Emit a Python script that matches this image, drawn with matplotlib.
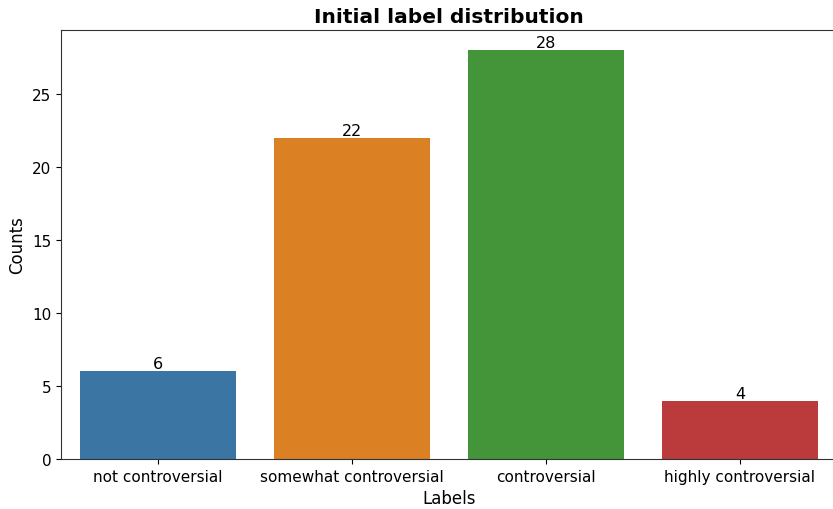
import matplotlib
matplotlib.use('Agg')
import matplotlib.pyplot as plt
import numpy as np

labels = ['not controversial', 'somewhat controversial', 'controversial', 'highly controversial']
counts = [6, 22, 28, 4]
colors = ['#3a75a4', '#dc8024', '#44953a', '#bb3b3d']


def main():
    fig = plt.figure(figsize=(8.33, 5.1), dpi=100)
    # axes runs a bit past the right edge, as in the cropped original
    ax = fig.add_axes([61 / 833, 50 / 510, 776 / 833, 429 / 510])

    x = np.arange(len(labels))
    bars = ax.bar(x, counts, width=0.8, color=colors)
    ax.set_xlim(-0.5, len(labels) - 0.5)
    ax.set_ylim(0, max(counts) * 1.05)
    ax.set_xticks(x)
    ax.set_xticklabels(labels)
    ax.bar_label(bars, fontsize=11.5, padding=0)

    ax.tick_params(labelsize=11)
    for s in ax.spines.values():
        s.set_color('#333333')
    ax.set_xlabel('Labels', fontsize=12)
    ax.set_ylabel('Counts', fontsize=12)
    ax.set_title('Initial label distribution', fontsize=14.5, fontweight='bold')

    fig.savefig('out.png', dpi=100)
    plt.close(fig)


if __name__ == '__main__':
    main()
